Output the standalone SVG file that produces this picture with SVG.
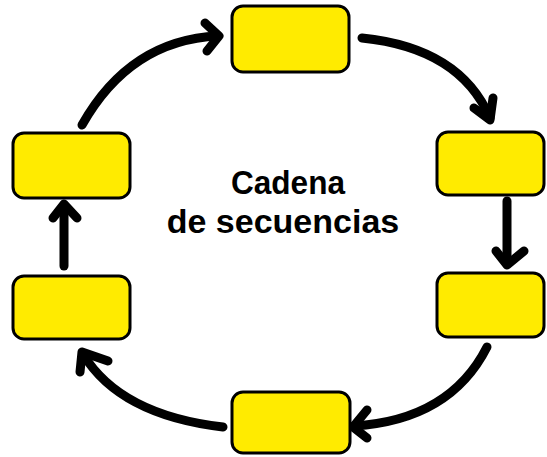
<svg xmlns="http://www.w3.org/2000/svg" width="547" height="457" viewBox="0 0 547 457">
<style>
.box{fill:#FFEB00;stroke:#000;stroke-width:3}
.arr{fill:none;stroke:#000;stroke-width:9;stroke-linecap:round;stroke-linejoin:round}
.lbl{font-family:"Liberation Sans",Arial,sans-serif;font-weight:bold;font-size:34px;fill:#000}
</style>
<rect width="547" height="457" fill="#fff"/>
<g id="connectors">
<path class="arr" d="M82,125 Q130,40 218,36"/>
<path class="arr" d="M205,23 L219,36 L207,51"/>
<path class="arr" d="M362,38 Q460,48 490,118"/>
<path class="arr" d="M474,108 L490,120 L493,98"/>
<path class="arr" d="M507,201 L507,264"/>
<path class="arr" d="M496,251 L507,265 L524,251"/>
<path class="arr" d="M487,347 Q450,420 354,426"/>
<path class="arr" d="M367,410 L353,427 L367,438"/>
<path class="arr" d="M223,427 Q120,415 83,354"/>
<path class="arr" d="M80,372 L82,352 L108,361"/>
<path class="arr" d="M64,266 L64,205"/>
<path class="arr" d="M53,218 L64,204 L77,218"/>
</g>
<g id="n1"><rect class="box" x="232" y="6" width="117" height="66" rx="11"/></g>
<g id="n2"><rect class="box" x="437" y="132" width="107" height="63" rx="11"/></g>
<g id="n3"><rect class="box" x="437" y="273" width="107" height="64" rx="11"/></g>
<g id="n4"><rect class="box" x="232" y="392" width="118" height="61" rx="11"/></g>
<g id="n5"><rect class="box" x="13" y="276" width="117" height="63" rx="11"/></g>
<g id="n6"><rect class="box" x="13" y="133" width="117" height="65" rx="11"/></g>
<g id="title">
<text class="lbl" x="288" y="194" text-anchor="middle" textLength="114" lengthAdjust="spacingAndGlyphs">Cadena</text>
<text class="lbl" x="283" y="233" text-anchor="middle">de secuencias</text>
</g>
</svg>
